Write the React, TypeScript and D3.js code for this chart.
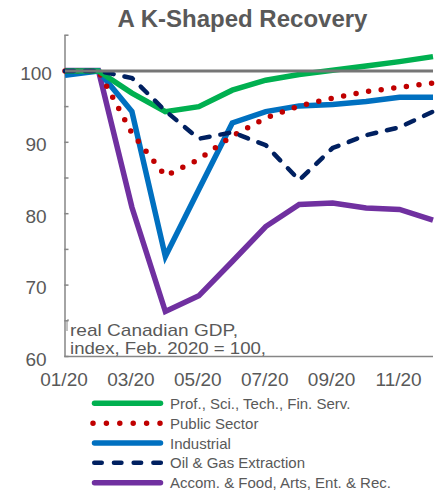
import React from "react";
import * as d3 from "d3";

const months = ["01/20", "02/20", "03/20", "04/20", "05/20", "06/20", "07/20", "08/20", "09/20", "10/20", "11/20", "12/20"];
const tickLabels = ["01/20", "03/20", "05/20", "07/20", "09/20", "11/20"];
const yTickLabels = [60, 70, 80, 90, 100];
const yMinorTicks = [60, 65, 70, 75, 80, 85, 90, 95, 100, 105];

const profSci = [100, 100, 96.9, 94.3, 95.0, 97.3, 98.7, 99.5, 100.1, 100.7, 101.3, 102.0];
const publicSector = [100, 100, 91.3, 85.3, 87.6, 90.9, 93.4, 95.1, 96.2, 97.1, 97.7, 98.3];
const industrial = [99.4, 100, 94.3, 74.0, 83.4, 92.7, 94.3, 95.1, 95.3, 95.7, 96.3, 96.3];
const oilGas = [100, 100, 99.0, 94.4, 90.5, 91.4, 89.6, 84.7, 89.2, 91.0, 92.1, 94.3];
const accomFood = [100.05, 100.05, 80.9, 66.3, 68.5, 73.3, 78.2, 81.3, 81.5, 80.8, 80.6, 79.1];

const seriesNames = [
  "Prof., Sci., Tech., Fin. Serv.",
  "Public Sector",
  "Industrial",
  "Oil & Gas Extraction",
  "Accom. & Food, Arts, Ent. & Rec.",
];

const noteLines = ["real Canadian GDP,", "index, Feb. 2020 = 100,"];
const noteWidths = [168, 196];

const FONT = "'Liberation Sans', Arial, sans-serif";
const TEXT = "#595959";
const AXIS = "#868686";

type Style = { color: string; width: number; dash?: string; cap: "butt" | "round"; legendDash?: string };

const styles: Style[] = [
  { color: "#00b050", width: 5.5, cap: "butt" },
  { color: "#c00000", width: 5.5, dash: "0 12.7", cap: "round", legendDash: "0 13.4" },
  { color: "#0070c0", width: 5.5, cap: "butt" },
  { color: "#002060", width: 4.5, dash: "9 11", cap: "round", legendDash: "7.5 12.2" },
  { color: "#7030a0", width: 5.5, cap: "butt" },
];

export default function App() {
  const W = 439;
  const H = 496;
  const x = d3.scaleLinear().domain([0, 11]).range([65, 433]);
  const y = d3.scaleLinear().domain([60, 105]).range([356.5, 35.2]);
  const line = d3
    .line<number>()
    .x((_, i) => x(i))
    .y((d) => y(d));

  const data = [profSci, publicSector, industrial, oilGas, accomFood];
  const drawOrder = [4, 2, 1, 0, 3];

  return (
    <div style={{ position: "absolute", left: 0, top: 0 }}>
      <svg width={W} height={H} style={{ display: "block", background: "#fff" }}>
        <text x={242.5} y={27} textAnchor="middle" fontFamily={FONT} fontWeight="bold" fontSize={24} fill={TEXT}>
          A K-Shaped Recovery
        </text>

        {/* axes */}
        <line x1={65} x2={65} y1={y(105)} y2={y(60)} stroke={AXIS} strokeWidth={1.5} />
        <line x1={64.3} x2={433} y1={y(60)} y2={y(60)} stroke={AXIS} strokeWidth={1.5} />
        {yMinorTicks.map((t) => (
          <line key={t} x1={64.3} x2={68.5} y1={y(t)} y2={y(t)} stroke={AXIS} strokeWidth={1.5} />
        ))}
        {yTickLabels.map((t) => (
          <text key={t} x={36} y={y(t) + 9} textAnchor="middle" fontFamily={FONT} fontSize={19} fill={TEXT}>
            {t}
          </text>
        ))}
        {tickLabels.map((lab) => (
          <text key={lab} x={x(months.indexOf(lab)) - 1} y={386} textAnchor="middle" fontFamily={FONT} fontSize={19} fill={TEXT}>
            {lab}
          </text>
        ))}

        {/* annotation */}
        <path d="M69,320 H67 V331" fill="none" stroke={AXIS} strokeWidth={1} />
        {noteLines.map((t, i) => (
          <text
            key={t}
            x={70}
            y={335.5 + i * 18.5}
            fontFamily={FONT}
            fontSize={17}
            fill={TEXT}
            textLength={noteWidths[i]}
            lengthAdjust="spacingAndGlyphs"
          >
            {t}
          </text>
        ))}

        {/* series */}
        {drawOrder.map((i) => (
          <path
            key={i}
            d={line(data[i]) || ""}
            fill="none"
            stroke={styles[i].color}
            strokeWidth={styles[i].width}
            strokeDasharray={styles[i].dash}
            strokeLinecap={styles[i].cap}
            strokeLinejoin="miter"
          />
        ))}

        {/* reference line at 100 */}
        <line x1={65} x2={433} y1={y(100)} y2={y(100)} stroke="#767676" strokeWidth={3} />

        {/* legend */}
        {seriesNames.map((name, i) => {
          const cy = 403.3 + i * 19.85;
          const s = styles[i];
          const isDot = i === 1;
          const isDash = i === 3;
          const x1 = isDot ? 93 : isDash ? 94.25 : 94.5;
          const x2 = isDot ? 160.1 : isDash ? 161 : 160.5;
          return (
            <g key={name}>
              <line
                x1={x1}
                x2={x2}
                y1={cy}
                y2={cy}
                stroke={s.color}
                strokeWidth={s.width}
                strokeLinecap="round"
                strokeDasharray={s.legendDash}
              />
              <text x={170} y={cy + 5.5} fontFamily={FONT} fontSize={15} fill={TEXT}>
                {name}
              </text>
            </g>
          );
        })}
      </svg>
    </div>
  );
}
